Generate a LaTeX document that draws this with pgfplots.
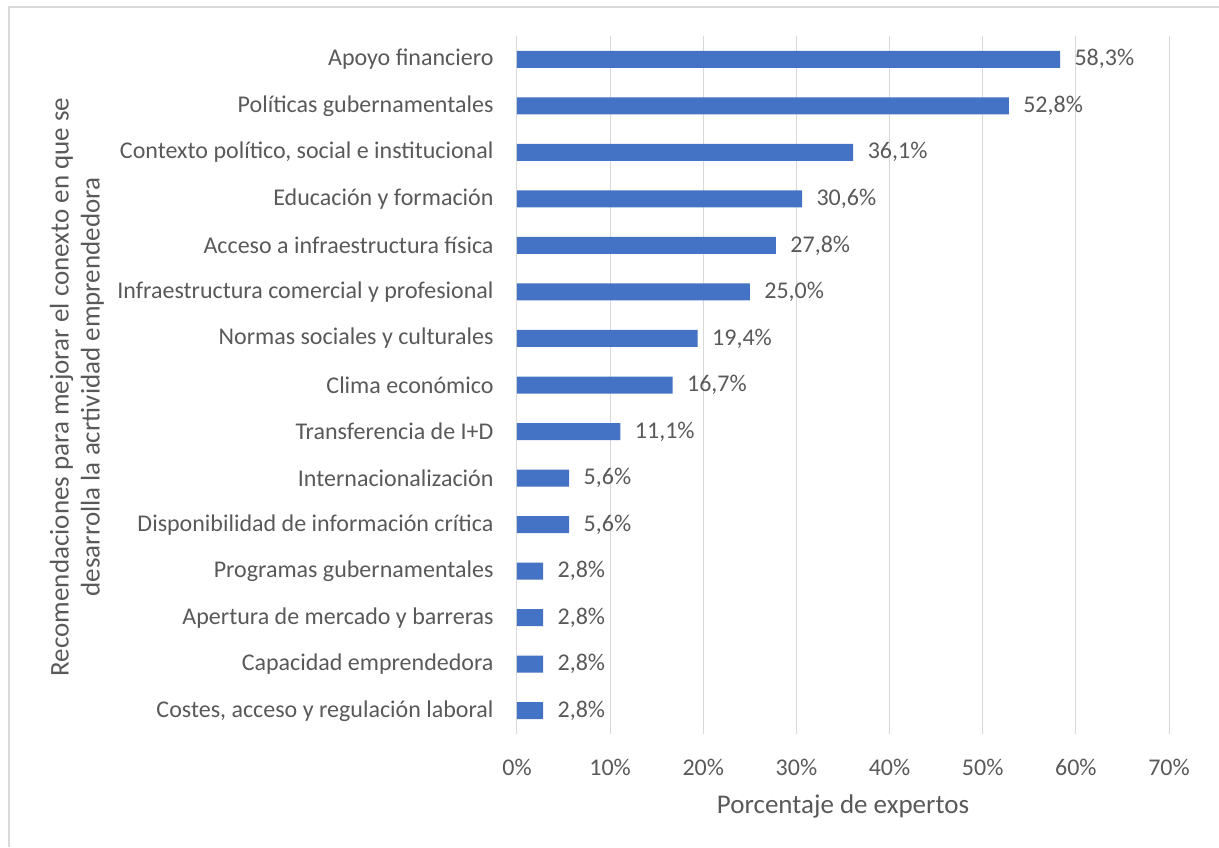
\documentclass[border=0pt]{standalone}
\usepackage{fontspec}
\setmainfont{Carlito}
\usepackage{pgfplots}
\pgfplotsset{compat=1.18}
\definecolor{barblue}{RGB}{68,114,196}
\definecolor{txt}{RGB}{89,89,89}
\definecolor{gridgray}{RGB}{217,217,217}
\begin{document}
\begin{tikzpicture}[x=1pt,y=1pt]
\path[use as bounding box] (0,0) rectangle (1219,847);
\draw[gridgray, line width=1.5pt] (9,0) -- (9,840) -- (1219,840);
\begin{axis}[at={(517pt,113pt)}, anchor=south west,
  width=652pt, height=698pt, scale only axis,
  xbar, bar width=17pt,
  xmin=0, xmax=70, ymin=-0.5, ymax=14.5, y dir=reverse,
  xtick={0,10,...,70},
  xticklabel={\pgfmathprintnumber{\tick}\%},
  ytick={0,...,14},
  yticklabels={Apoyo financiero, Políticas gubernamentales, {Contexto político, social e institucional}, Educación y formación, Acceso a infraestructura física, Infraestructura comercial y profesional, Normas sociales y culturales, Clima económico, Transferencia de I+D, Internacionalización, Disponibilidad de información crítica, Programas gubernamentales, Apertura de mercado y barreras, Capacidad emprendedora, {Costes, acceso y regulación laboral}},
  /pgf/number format/assume math mode=true,
  axis line style={draw=none}, major tick length=0pt,
  xmajorgrids, grid style={gridgray, line width=1pt},
  tick label style={font=\fontsize{24}{28}\selectfont, text=txt},
  yticklabel style={xshift=-20pt},
  xticklabel style={yshift=-22pt},
  point meta=x,
  nodes near coords={\pgfmathprintnumber[fixed, fixed zerofill, precision=1, use comma]{\pgfplotspointmeta}\%},
  every node near coord/.append style={font=\fontsize{24}{28}\selectfont, text=txt, xshift=11pt},
]
\addplot[draw=none, fill=barblue] coordinates {
  (58.3,0) (52.8,1) (36.1,2) (30.6,3) (27.8,4) (25.0,5) (19.4,6) (16.7,7)
  (11.1,8) (5.6,9) (5.6,10) (2.8,11) (2.8,12) (2.8,13) (2.8,14)};
\end{axis}
\node[text=txt, font=\fontsize{27}{32}\selectfont] at (843,41) {Porcentaje de expertos};
\node[text=txt, font=\fontsize{27}{31}\selectfont, rotate=90, align=center] at (77,460)
  {Recomendaciones para mejorar el conexto en que se\\desarrolla la acrtividad emprendedora};
\end{tikzpicture}
\end{document}
